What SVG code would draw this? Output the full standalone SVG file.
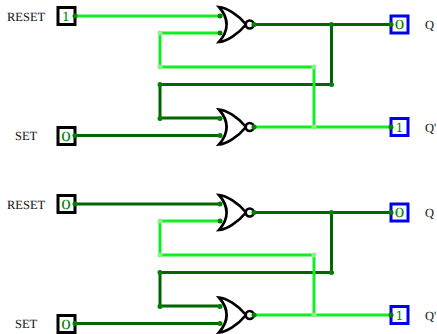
<svg xmlns="http://www.w3.org/2000/svg" xmlns:xlink="http://www.w3.org/1999/xlink" width="437" height="334" viewBox="0 0 437 334">
<style>
text{text-rendering:geometricPrecision}
.on{fill:none;stroke:#11ee22;stroke-width:3}
.off{fill:none;stroke:#006600;stroke-width:3}
.dd{fill:#008000}
.ld{fill:#90ee90}
.in{fill:#fff;stroke:#000;stroke-width:3}
.out{fill:#fff;stroke:#0000ee;stroke-width:3}
.lab{font-family:"Liberation Serif",serif;font-size:12.500px;fill:#111}
.val{font-family:"DejaVu Serif",serif;font-size:12.500px;fill:#008800;text-anchor:middle}
.zero{font-family:"Liberation Serif",serif;font-size:14px;fill:#008800}
.gb{fill:#fff;stroke:#000;stroke-width:2.700}
</style>
<defs>
<g id="nor">
<path class="gb" d="M219 -17.500C226 -17 238 -10 246 0C238 10 226 17 219 17.500C229 6 229 -6 219 -17.500Z"/>
<circle class="gb" cx="249.700" cy="0" r="4"/>
</g>
</defs>
<g id="connectors">
<path class="on" d="M75 16H220"/>
<path class="on" d="M220 33H160V67H314"/>
<path class="off" d="M331.500 24.500V84.500H160V118H220"/>
<path class="off" d="M75 135.500H220"/>
<path class="off" d="M254 24.500H391"/>
<path class="on" d="M314 67V127"/>
<path class="on" d="M254 127H391"/>
<path class="off" d="M75 204H220"/>
<path class="on" d="M220 221H160V255H314"/>
<path class="off" d="M331.500 212.500V272.500H160V306H220"/>
<path class="off" d="M75 323.500H220"/>
<path class="off" d="M254 212.500H391"/>
<path class="on" d="M314 255V315"/>
<path class="on" d="M254 315H391"/>
</g>
<g id="reset1"><rect class="in" x="58" y="7.500" width="17" height="17"/><text class="val" x="66" y="21">1</text><text class="lab" x="7" y="20.500">RESET</text></g>
<g id="set1"><rect class="in" x="58" y="127.500" width="17" height="17"/><text class="zero" x="61.300" y="140.700" textLength="9.500" lengthAdjust="spacingAndGlyphs">0</text><text class="lab" x="15" y="140">SET</text></g>
<g id="reset2"><rect class="in" x="58" y="195.500" width="17" height="17"/><text class="zero" x="61.300" y="208.700" textLength="9.500" lengthAdjust="spacingAndGlyphs">0</text><text class="lab" x="7" y="208.500">RESET</text></g>
<g id="set2"><rect class="in" x="58" y="315.500" width="17" height="17"/><text class="zero" x="61.300" y="328.700" textLength="9.500" lengthAdjust="spacingAndGlyphs">0</text><text class="lab" x="15" y="328">SET</text></g>
<g id="nor1"><use xlink:href="#nor" y="24.500"/></g>
<g id="nor2"><use xlink:href="#nor" y="127"/></g>
<g id="nor3"><use xlink:href="#nor" y="212.500"/></g>
<g id="nor4"><use xlink:href="#nor" y="315"/></g>
<g id="q1"><rect class="out" x="391" y="16" width="17" height="17"/><text class="zero" x="394.800" y="29.200" textLength="9.500" lengthAdjust="spacingAndGlyphs">0</text><text class="lab" x="425" y="29">Q</text></g>
<g id="qn1"><rect class="out" x="391" y="118.500" width="17" height="17"/><text class="val" x="399.500" y="132">1</text><text class="lab" x="425" y="131.500">Q'</text></g>
<g id="q2"><rect class="out" x="391" y="204" width="17" height="17"/><text class="zero" x="394.800" y="217.200" textLength="9.500" lengthAdjust="spacingAndGlyphs">0</text><text class="lab" x="425" y="217">Q</text></g>
<g id="qn2"><rect class="out" x="391" y="306.500" width="17" height="17"/><text class="val" x="399.500" y="320">1</text><text class="lab" x="425" y="319.500">Q'</text></g>
<g id="joints">
<circle class="dd" cx="75" cy="16" r="2.500"/><circle class="dd" cx="220" cy="16" r="2.500"/><circle class="dd" cx="220" cy="33" r="2.500"/>
<circle class="ld" cx="160" cy="33" r="2.500"/><circle class="ld" cx="160" cy="67" r="2.500"/><circle class="ld" cx="314" cy="67" r="2.500"/><circle class="ld" cx="314" cy="127" r="2.500"/>
<circle class="dd" cx="160" cy="84.500" r="2.500"/><circle class="dd" cx="160" cy="118.500" r="2.500"/><circle class="dd" cx="220" cy="118.500" r="2.500"/><circle class="dd" cx="220" cy="135.500" r="2.500"/><circle class="dd" cx="75" cy="135.500" r="2.500"/>
<circle class="dd" cx="254" cy="24.500" r="2.500"/><circle class="dd" cx="331.500" cy="24.500" r="2.500"/><circle class="dd" cx="331.500" cy="84.500" r="2.500"/><circle class="dd" cx="391" cy="24.500" r="2.500"/><circle class="dd" cx="254" cy="127" r="2.500"/><circle class="dd" cx="391" cy="127" r="2.500"/>
<circle class="dd" cx="75" cy="204" r="2.500"/><circle class="dd" cx="220" cy="204" r="2.500"/><circle class="dd" cx="220" cy="221" r="2.500"/>
<circle class="ld" cx="160" cy="221" r="2.500"/><circle class="ld" cx="160" cy="255" r="2.500"/><circle class="ld" cx="314" cy="255" r="2.500"/><circle class="ld" cx="314" cy="315" r="2.500"/>
<circle class="dd" cx="160" cy="272.500" r="2.500"/><circle class="dd" cx="160" cy="306.500" r="2.500"/><circle class="dd" cx="220" cy="306.500" r="2.500"/><circle class="dd" cx="220" cy="323.500" r="2.500"/><circle class="dd" cx="75" cy="323.500" r="2.500"/>
<circle class="dd" cx="254" cy="212.500" r="2.500"/><circle class="dd" cx="331.500" cy="212.500" r="2.500"/><circle class="dd" cx="331.500" cy="272.500" r="2.500"/><circle class="dd" cx="391" cy="212.500" r="2.500"/><circle class="dd" cx="254" cy="315" r="2.500"/><circle class="dd" cx="391" cy="315" r="2.500"/>
</g>
</svg>
